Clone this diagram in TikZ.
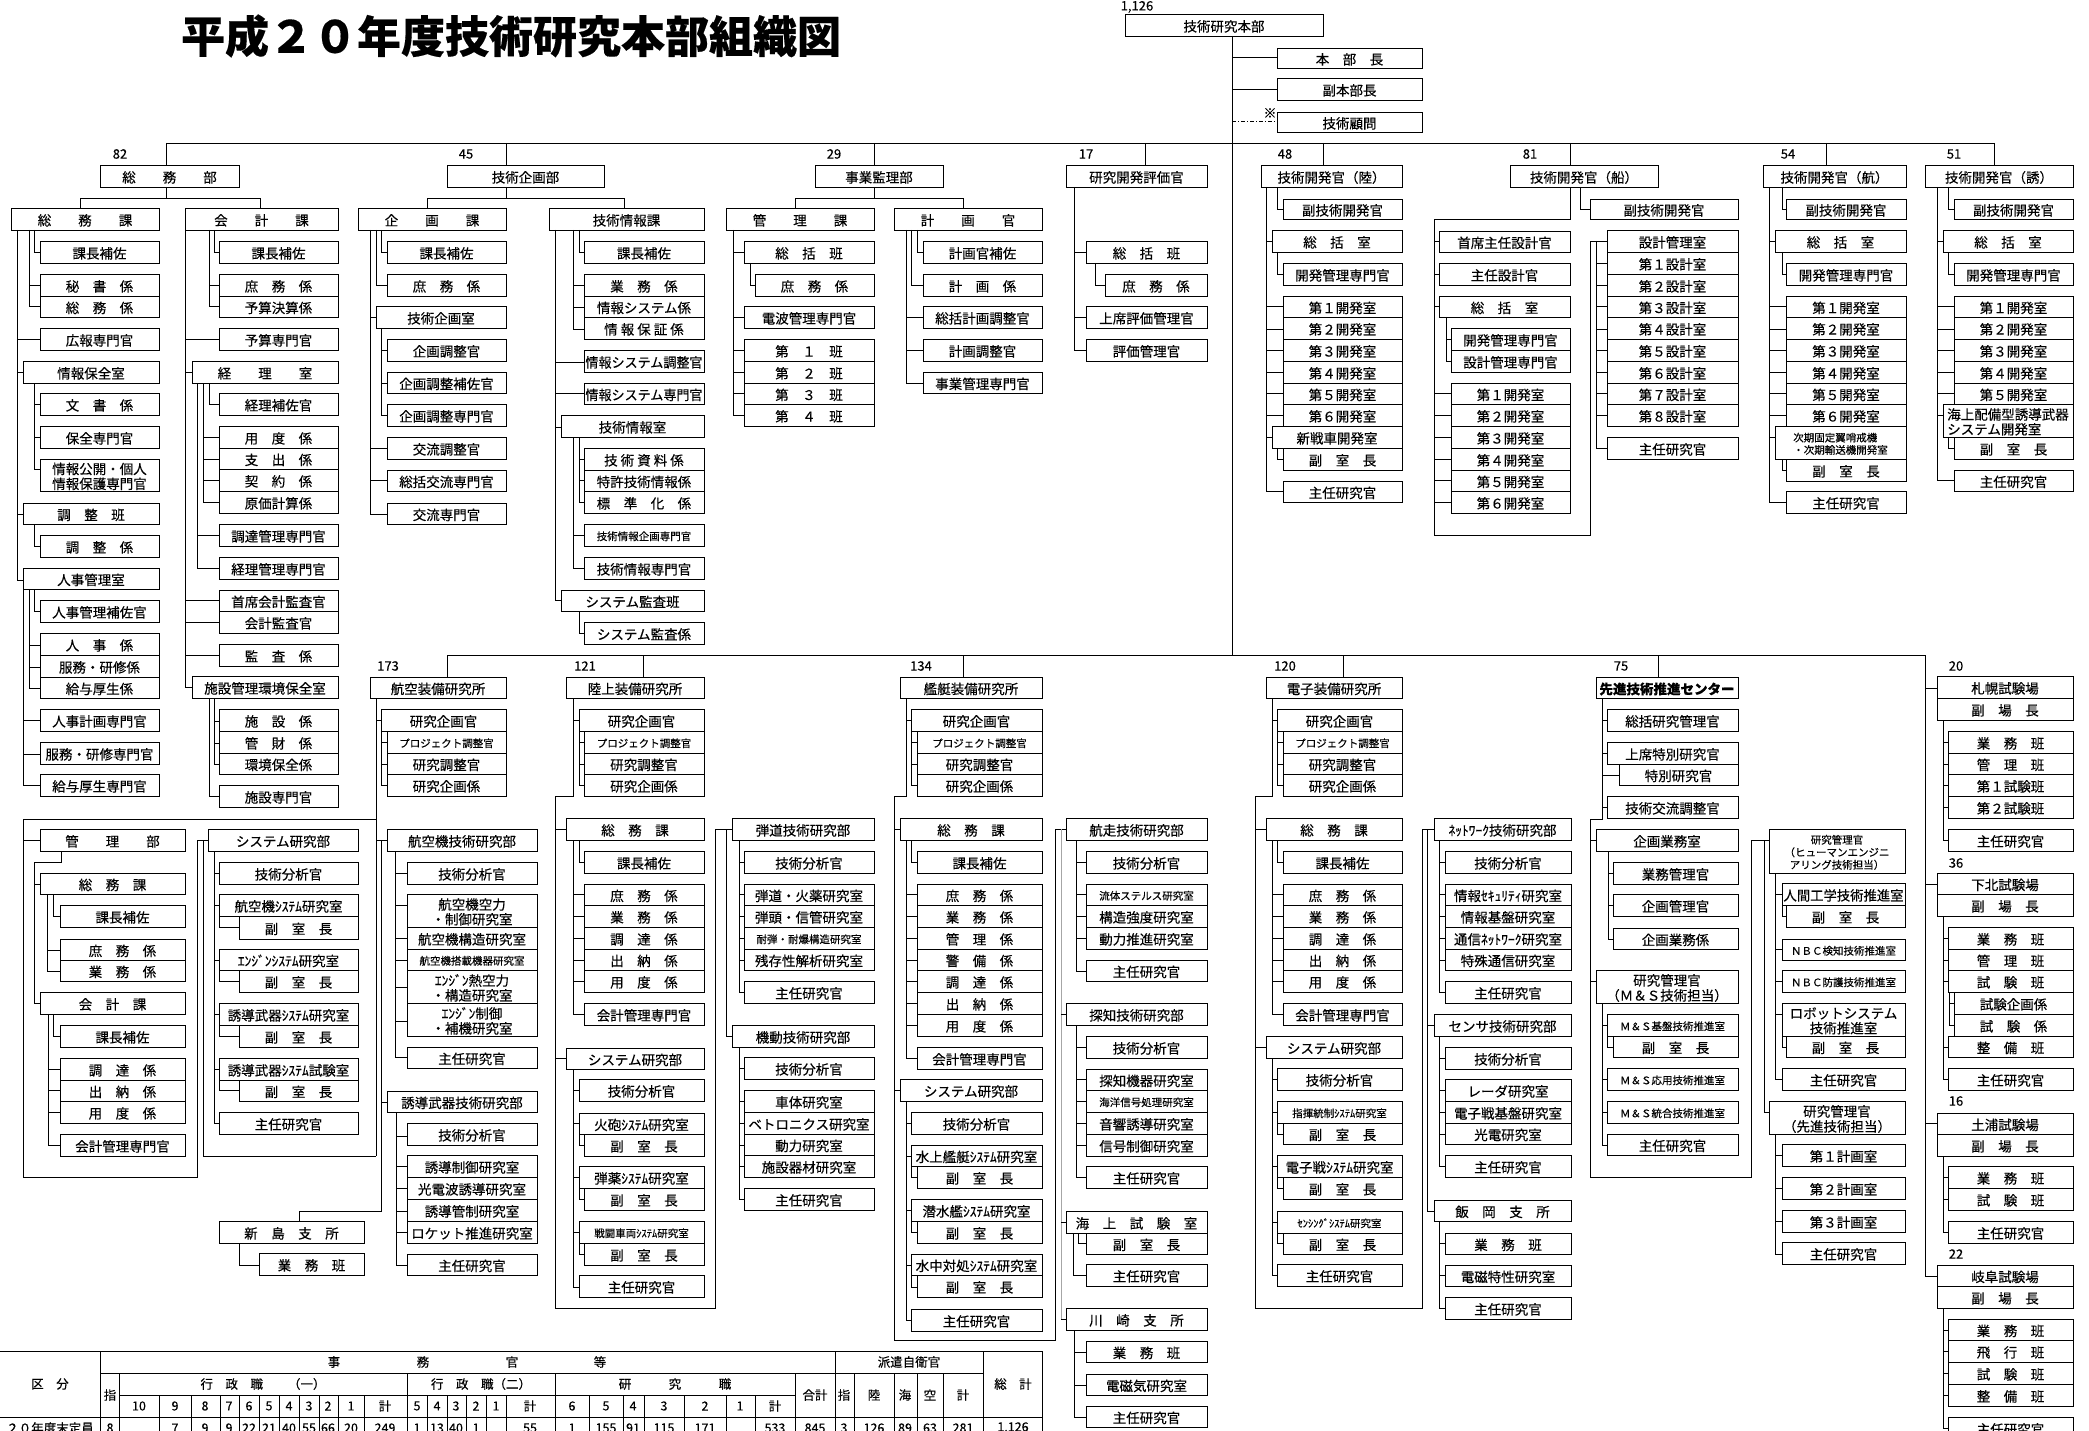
\documentclass[tikz,border=0pt]{standalone}
\usepackage{fontspec}
\setmainfont{Noto Sans CJK JP}[FakeBold=0.3]
\usepackage{graphicx}
\newcounter{bx}
\newcounter{lb}
\newsavebox\tbox
\newdimen\bw
\newcommand\sm{\fontsize{10.5}{11.5}\selectfont}
\newcommand\fitt[2]{\sbox\tbox{\def\arraystretch{0.78}\begin{tabular}{@{}#1@{}}#2\end{tabular}}\raisebox{-2.6pt}[\ht\tbox][\dp\tbox]{\ifdim\wd\tbox>\bw\resizebox{\bw}{\height}{\usebox\tbox}\else\usebox\tbox\fi}}
\newcommand\B[6][c]{\stepcounter{bx}\bw=\dimexpr #4pt-#2pt-3pt\relax
  \node[box,minimum width={(#4-#2)*1pt},minimum height={(#5-#3)*1pt}] (b\thebx) at ({(#2+#4)/2},{(#3+#5)/2}) {\fitt{#1}{#6}};}
\newcommand\Lb[3]{\stepcounter{lb}\node[lab] (l\thelb) at (#1,#2) {#3};}
\newcommand\comb[5]{\draw (#1,#2)--(#1,#3); \foreach \yy in {#5} {\draw (#1,\yy)--(#4,\yy);}}
\newcommand\el[4]{\draw (#1,#2)--(#1,#3)--(#4,#3);}
\newcommand\hl[3]{\draw (#1,#3)--(#2,#3);}
\begin{document}
\begin{tikzpicture}[x=1pt,y=-1pt,line width=0.9pt,
  box/.style={draw,inner sep=0pt,font=\fontsize{13.5}{15}\selectfont},
  lab/.style={inner sep=0pt,font=\fontsize{13}{14}\selectfont},
  tb/.style={inner sep=0pt,font=\fontsize{12.5}{13}\selectfont}]
\useasboundingbox (0,0) rectangle (2089,1431);
\clip (0,0) rectangle (2089,1431);
\fill[white] (0,0) rectangle (2089,1431);
% title
\node[inner sep=0pt,font=\fontsize{44}{48}\selectfont\bfseries] (title) at (511,36) {平成２０年度技術研究本部組織図};
% top
\B{1125}{14}{1323}{36}{技術研究本部}
\Lb{1137}{7}{1,126}
\B{1277}{48}{1422}{68}{本　部　長}
\B{1277}{78}{1422}{100}{副本部長}
\B{1277}{112}{1422}{132}{技術顧問}
\draw (1232,36)--(1232,655);
\hl{1232}{1277}{57} \hl{1232}{1277}{89}
\draw[dash pattern=on 4pt off 2pt on 1pt off 2pt] (1232,121)--(1277,121);
\node[lab] (kome) at (1270,113) {※};
% upper bus
\draw (166,143)--(1994,143);
\foreach \xx in {166,506,874,1145,1323,1570,1826,1994} {\draw (\xx,143)--(\xx,165);}
\B{100}{165}{239}{187}{総　　務　　部}
\B{447}{165}{604}{187}{技術企画部}
\B{815}{165}{943}{187}{事業監理部}
\B{1066}{165}{1207}{187}{研究開発評価官}
\B{1261}{165}{1402}{187}{技術開発官（陸）}
\B{1510}{165}{1658}{187}{技術開発官（船）}
\B{1763}{165}{1906}{187}{技術開発官（航）}
\B{1925}{165}{2073}{187}{技術開発官（誘）}
\Lb{120}{154}{82} \Lb{466}{154}{45} \Lb{834}{154}{29} \Lb{1086}{154}{17}
\Lb{1285}{154}{48} \Lb{1530}{154}{81} \Lb{1788}{154}{54} \Lb{1954}{154}{51}
% ===== 総務部
\draw (166,187)--(166,198); \draw (80,208)--(80,198)--(260,198)--(260,208);
\B{11}{208}{159}{230}{総　　務　　課}
\B{185}{208}{338}{230}{会　　計　　課}
\el{34}{230}{252}{40}
\B{40}{241}{159}{263}{課長補佐}
\comb{29}{230}{306}{40}{285,306}
\B{40}{274}{159}{296}{秘　書　係}
\B{40}{296}{159}{317}{総　務　係}
\B{40}{328}{159}{350}{広報専門官}
\B{23}{361}{159}{383}{情報保全室}
\comb{34}{383}{469}{40}{404,437,469}
\B{40}{393}{159}{415}{文　書　係}
\B{40}{426}{159}{448}{保全専門官}
\B{40}{459}{159}{491}{情報公開・個人\\情報保護専門官}
\B{23}{503}{159}{524}{調　整　班}
\el{34}{524}{546}{40}
\B{40}{535}{159}{557}{調　整　係}
\B{23}{568}{159}{589}{人事管理室}
\draw (17,230)--(17,580);
\hl{17}{40}{339} \hl{17}{23}{372} \hl{17}{23}{514} \hl{17}{23}{580}
\el{34}{589}{611}{40}
\B{40}{600}{159}{622}{人事管理補佐官}
\comb{29}{589}{688}{40}{645,667,688}
\B{40}{633}{159}{655}{人　事　係}
\B{40}{655}{159}{677}{服務・研修係}
\B{40}{677}{159}{698}{給与厚生係}
\comb{23}{589}{785}{40}{720,754,785}
\B{40}{709}{159}{731}{人事計画専門官}
\B{40}{742}{159}{764}{服務・研修専門官}
\B{40}{774}{159}{796}{給与厚生専門官}
% 会計課
\draw (185,230)--(185,687);
\hl{185}{219}{339} \hl{185}{192}{372} \hl{185}{219}{600} \hl{185}{219}{622} \hl{185}{219}{655} \hl{185}{192}{687}
\el{214}{230}{252}{219}
\B{219}{241}{338}{263}{課長補佐}
\comb{209}{230}{306}{219}{285,306}
\B{219}{274}{338}{296}{庶　務　係}
\B{219}{296}{338}{317}{予算決算係}
\B{219}{328}{338}{350}{予算専門官}
\B{192}{361}{338}{383}{経　　理　　室}
\el{209}{383}{404}{219}
\B{219}{393}{338}{415}{経理補佐官}
\comb{203}{383}{502}{219}{437,459,480,502}
\B{219}{426}{338}{448}{用　度　係}
\B{219}{448}{338}{469}{支　出　係}
\B{219}{469}{338}{491}{契　約　係}
\B{219}{491}{338}{513}{原価計算係}
\comb{197}{383}{568}{219}{535,568}
\B{219}{524}{338}{546}{調達管理専門官}
\B{219}{557}{338}{579}{経理管理専門官}
\B{219}{590}{338}{611}{首席会計監査官}
\B{219}{611}{338}{633}{会計監査官}
\B{219}{644}{338}{666}{監　査　係}
\B{192}{676}{338}{698}{施設管理環境保全室}
\comb{214}{698}{764}{219}{721,743,764}
\B{219}{709}{338}{731}{施　設　係}
\B{219}{731}{338}{753}{管　財　係}
\B{219}{753}{338}{774}{環境保全係}
\el{209}{698}{796}{219}
\B{219}{785}{338}{807}{施設専門官}
% ===== 技術企画部
\draw (506,187)--(506,198); \draw (427,208)--(427,198)--(624,198)--(624,208);
\B{358}{208}{506}{230}{企　　画　　課}
\B{549}{208}{704}{230}{技術情報課}
\el{381}{230}{252}{387}
\B{387}{241}{506}{263}{課長補佐}
\el{376}{230}{285}{387}
\B{387}{274}{506}{296}{庶　務　係}
\draw (370,230)--(370,514);
\hl{370}{376}{317} \hl{370}{387}{448} \hl{370}{387}{480} \hl{370}{387}{514}
\B{376}{306}{506}{328}{技術企画室}
\comb{381}{328}{415}{387}{350,383,415}
\B{387}{339}{506}{361}{企画調整官}
\B{387}{372}{506}{393}{企画調整補佐官}
\B{387}{404}{506}{426}{企画調整専門官}
\B{387}{437}{506}{459}{交流調整官}
\B{387}{470}{506}{491}{総括交流専門官}
\B{387}{503}{506}{524}{交流専門官}
\el{579}{230}{252}{584}
\B{584}{241}{704}{263}{課長補佐}
\comb{573}{230}{329}{584}{285,307,329}
\B{584}{274}{704}{296}{業　務　係}
\B{584}{296}{704}{317}{情報システム係}
\B{584}{317}{704}{339}{情 報 保 証 係}
\draw (555,230)--(555,600);
\hl{555}{584}{362} \hl{555}{584}{393} \hl{555}{561}{427} \hl{555}{561}{600}
\B{584}{350}{704}{372}{情報システム調整官}
\B{584}{383}{704}{404}{情報システム専門官}
\B{561}{415}{704}{437}{技術情報室}
\comb{579}{437}{502}{584}{459,480,502}
\B{584}{448}{704}{470}{技 術 資 料 係}
\B{584}{470}{704}{491}{特許技術情報係}
\B{584}{491}{704}{513}{標　準　化　係}
\comb{573}{437}{568}{584}{535,568}
\B{584}{524}{704}{546}{\sm 技術情報企画専門官}
\B{584}{557}{704}{579}{技術情報専門官}
\B{561}{590}{704}{611}{システム監査班}
\el{579}{611}{633}{584}
\B{584}{622}{704}{644}{システム監査係}
% ===== 事業監理部
\draw (874,187)--(874,198); \draw (795,208)--(795,198)--(963,198)--(963,208);
\B{726}{208}{874}{230}{管　　理　　課}
\B{894}{208}{1042}{230}{計　　画　　官}
\comb{733}{230}{415}{744}{252,317,350,372,393,415}
\B{744}{241}{874}{263}{総　括　班}
\el{750}{263}{285}{755}
\B{755}{274}{874}{296}{庶　務　係}
\B{744}{306}{874}{328}{電波管理専門官}
\B{744}{339}{874}{361}{第　１　班}
\B{744}{361}{874}{383}{第　２　班}
\B{744}{383}{874}{404}{第　３　班}
\B{744}{404}{874}{426}{第　４　班}
\el{917}{230}{252}{923}
\B{923}{241}{1042}{263}{計画官補佐}
\el{911}{230}{285}{923}
\B{923}{274}{1042}{296}{計　画　係}
\comb{906}{230}{383}{923}{317,350,383}
\B{923}{306}{1042}{328}{総括計画調整官}
\B{923}{339}{1042}{361}{計画調整官}
\B{923}{372}{1042}{393}{事業管理専門官}
% ===== 研究開発評価官
\comb{1074}{187}{350}{1086}{252,317,350}
\B{1086}{241}{1207}{263}{総　括　班}
\el{1095}{263}{285}{1105}
\B{1105}{274}{1207}{296}{庶　務　係}
\B{1086}{306}{1207}{328}{上席評価管理官}
\B{1086}{339}{1207}{361}{評価管理官}
% ===== 技術開発官（陸）
\el{1277}{187}{209}{1283}
\B{1283}{199}{1402}{219}{副技術開発官}
\comb{1266}{187}{491}{1283}{306,329,350,372,393,415,491}
\hl{1266}{1272}{241} \hl{1266}{1272}{437}
\B{1272}{230}{1402}{252}{総　括　室}
\el{1277}{252}{274}{1283}
\B{1283}{263}{1402}{285}{開発管理専門官}
\B{1283}{296}{1402}{317}{第１開発室}
\B{1283}{317}{1402}{339}{第２開発室}
\B{1283}{339}{1402}{361}{第３開発室}
\B{1283}{361}{1402}{383}{第４開発室}
\B{1283}{383}{1402}{404}{第５開発室}
\B{1283}{404}{1402}{426}{第６開発室}
\B{1272}{426}{1402}{448}{新戦車開発室}
\el{1277}{448}{459}{1283}
\B{1283}{448}{1402}{470}{副　室　長}
\B{1283}{481}{1402}{502}{主任研究官}
% ===== 技術開発官（船）
\el{1580}{187}{209}{1590}
\B{1590}{199}{1738}{219}{副技術開発官}
\draw (1570,187)--(1570,219)--(1434,219)--(1434,535)--(1590,535)--(1590,241)--(1607,241);
\foreach \yy in {241,274,306} {\draw (1434,\yy)--(1439,\yy);}
\foreach \yy in {393,415,437,459,480,502} {\draw (1434,\yy)--(1451,\yy);}
\B{1439}{231}{1570}{252}{首席主任設計官}
\B{1439}{263}{1570}{285}{主任設計官}
\B{1439}{296}{1570}{317}{総　括　室}
\comb{1446}{317}{361}{1451}{339,361}
\B{1451}{328}{1570}{350}{開発管理専門官}
\B{1451}{350}{1570}{372}{設計管理専門官}
\B{1451}{383}{1570}{404}{第１開発室}
\B{1451}{404}{1570}{426}{第２開発室}
\B{1451}{426}{1570}{448}{第３開発室}
\B{1451}{448}{1570}{470}{第４開発室}
\B{1451}{470}{1570}{491}{第５開発室}
\B{1451}{491}{1570}{513}{第６開発室}
\B{1607}{230}{1738}{252}{設計管理室}
\B{1607}{252}{1738}{274}{第１設計室}
\B{1607}{274}{1738}{296}{第２設計室}
\B{1607}{296}{1738}{317}{第３設計室}
\B{1607}{317}{1738}{339}{第４設計室}
\B{1607}{339}{1738}{361}{第５設計室}
\B{1607}{361}{1738}{383}{第６設計室}
\B{1607}{383}{1738}{404}{第７設計室}
\B{1607}{404}{1738}{426}{第８設計室}
\comb{1596}{241}{448}{1607}{263,285,306,329,350,372,393,415,448}
\B{1607}{437}{1738}{459}{主任研究官}
% ===== 技術開発官（航）
\el{1782}{187}{209}{1786}
\B{1786}{199}{1906}{219}{副技術開発官}
\comb{1769}{187}{502}{1786}{306,329,350,372,393,415,502}
\hl{1769}{1775}{241} \hl{1769}{1775}{437}
\B{1775}{230}{1906}{252}{総　括　室}
\el{1782}{252}{274}{1786}
\B{1786}{263}{1906}{285}{開発管理専門官}
\B{1786}{296}{1906}{317}{第１開発室}
\B{1786}{317}{1906}{339}{第２開発室}
\B{1786}{339}{1906}{361}{第３開発室}
\B{1786}{361}{1906}{383}{第４開発室}
\B{1786}{383}{1906}{404}{第５開発室}
\B{1786}{404}{1906}{426}{第６開発室}
\B[l]{1775}{426}{1906}{459}{\sm 次期固定翼哨戒機\\\sm ・次期輸送機開発室}
\el{1782}{459}{470}{1786}
\B{1786}{459}{1906}{481}{副　室　長}
\B{1786}{491}{1906}{513}{主任研究官}
% ===== 技術開発官（誘）
\el{1948}{187}{209}{1954}
\B{1954}{199}{2073}{219}{副技術開発官}
\comb{1937}{187}{480}{1954}{306,329,350,372,393,480}
\hl{1937}{1943}{241} \hl{1937}{1943}{415}
\B{1943}{230}{2073}{252}{総　括　室}
\el{1948}{252}{274}{1954}
\B{1954}{263}{2073}{285}{開発管理専門官}
\B{1954}{296}{2073}{317}{第１開発室}
\B{1954}{317}{2073}{339}{第２開発室}
\B{1954}{339}{2073}{361}{第３開発室}
\B{1954}{361}{2073}{383}{第４開発室}
\B{1954}{383}{2073}{404}{第５開発室}
\B[l]{1943}{404}{2073}{437}{海上配備型誘導武器\\システム開発室}
\el{1948}{437}{448}{1954}
\B{1954}{437}{2073}{459}{副　室　長}
\B{1954}{470}{2073}{491}{主任研究官}
% ===== lower bus
\draw (447,655)--(1925,655);
\foreach \xx in {447,643,963,1343,1658} {\draw (\xx,655)--(\xx,677);}
\Lb{388}{666}{173} \Lb{585}{666}{121} \Lb{921}{666}{134} \Lb{1285}{666}{120} \Lb{1621}{666}{75}
% ===== 航空装備研究所
\B{370}{677}{506}{698}{航空装備研究所}
\draw (376,698)--(376,1156);
\hl{376}{381}{720}
\B{381}{709}{506}{731}{研究企画官}
\comb{381}{731}{785}{387}{742,764,785}
\B{387}{731}{506}{753}{\sm プロジェクト調整官}
\B{387}{753}{506}{774}{研究調整官}
\B{387}{774}{506}{796}{研究企画係}
\draw (23,819)--(376,819);
\draw (23,819)--(23,1177)--(197,1177)--(197,840)--(208,840);
\draw (203,840)--(203,1156)--(376,1156);
\hl{23}{40}{840}
\hl{376}{387}{840}
\draw (381,840)--(381,1211)--(299,1211)--(299,1221);
\hl{381}{387}{1102}
\B{40}{829}{185}{851}{管　　理　　部}
\draw (61,851)--(61,862)--(34,862)--(34,1003);
\hl{34}{40}{884} \hl{34}{40}{1003}
\B{40}{873}{185}{894}{総　務　課}
\el{53}{894}{916}{60}
\B{60}{905}{185}{927}{課長補佐}
\comb{47}{894}{971}{60}{950,971}
\B{60}{939}{185}{960}{庶　務　係}
\B{60}{960}{185}{981}{業　務　係}
\B{40}{992}{185}{1014}{会　計　課}
\el{53}{1014}{1036}{60}
\B{60}{1025}{185}{1047}{課長補佐}
\comb{48}{1014}{1145}{60}{1069,1090,1112,1145}
\B{60}{1058}{185}{1080}{調　達　係}
\B{60}{1080}{185}{1101}{出　納　係}
\B{60}{1101}{185}{1123}{用　度　係}
\B{60}{1134}{185}{1156}{会計管理専門官}
\B{208}{829}{358}{851}{システム研究部}
\comb{214}{851}{1123}{219}{873,905,960,1014,1069,1123}
\B{219}{862}{358}{884}{技術分析官}
\B{219}{894}{358}{916}{航空機ｼｽﾃﾑ研究室}
\el{219}{916}{927}{239}
\B{239}{916}{358}{939}{副　室　長}
\B{219}{949}{358}{970}{ｴﾝｼﾞﾝｼｽﾃﾑ研究室}
\el{219}{970}{981}{239}
\B{239}{970}{358}{992}{副　室　長}
\B{219}{1003}{358}{1025}{誘導武器ｼｽﾃﾑ研究室}
\el{219}{1025}{1036}{239}
\B{239}{1025}{358}{1047}{副　室　長}
\B{219}{1058}{358}{1080}{誘導武器ｼｽﾃﾑ試験室}
\el{219}{1080}{1090}{239}
\B{239}{1080}{358}{1101}{副　室　長}
\B{219}{1112}{358}{1134}{主任研究官}
\B{387}{829}{537}{851}{航空機技術研究部}
\comb{395}{851}{1057}{407}{873,905,938,960,987,1021,1057}
\B{407}{862}{537}{884}{技術分析官}
\B{407}{894}{537}{927}{航空機空力\\・制御研究室}
\B{407}{927}{537}{949}{航空機構造研究室}
\B{407}{949}{537}{970}{\sm 航空機搭載機器研究室}
\B{407}{970}{537}{1003}{ｴﾝｼﾞﾝ熱空力\\・構造研究室}
\B{407}{1003}{537}{1036}{ｴﾝｼﾞﾝ制御\\・補機研究室}
\B{407}{1047}{537}{1068}{主任研究官}
\B{387}{1091}{537}{1112}{誘導武器技術研究部}
\comb{396}{1112}{1265}{407}{1136,1166,1188,1211,1232,1265}
\B{407}{1123}{537}{1145}{技術分析官}
\B{407}{1155}{537}{1177}{誘導制御研究室}
\B{407}{1177}{537}{1199}{光電波誘導研究室}
\B{407}{1199}{537}{1221}{誘導管制研究室}
\B{407}{1221}{537}{1243}{ロケット推進研究室}
\B{407}{1254}{537}{1275}{主任研究官}
\B{219}{1221}{364}{1243}{新　島　支　所}
\el{239}{1243}{1265}{259}
\B{259}{1253}{364}{1275}{業　務　班}
% ===== 陸上装備研究所
\B{566}{677}{704}{698}{陸上装備研究所}
\draw (573,698)--(573,796)--(555,796)--(555,1308)--(715,1308)--(715,829)--(732,829);
\draw (726,829)--(726,1036)--(732,1036);
\hl{573}{579}{720}
\B{579}{709}{704}{731}{研究企画官}
\comb{579}{731}{785}{584}{742,764,785}
\B{584}{731}{704}{753}{\sm プロジェクト調整官}
\B{584}{753}{704}{774}{研究調整官}
\B{584}{774}{704}{796}{研究企画係}
\hl{555}{566}{829} \hl{555}{566}{1058}
\B{566}{818}{704}{840}{総　務　課}
\el{579}{840}{862}{584}
\B{584}{851}{704}{873}{課長補佐}
\comb{573}{840}{1014}{584}{894,916,938,960,981,1014}
\B{584}{884}{704}{905}{庶　務　係}
\B{584}{905}{704}{927}{業　務　係}
\B{584}{927}{704}{949}{調　達　係}
\B{584}{949}{704}{970}{出　納　係}
\B{584}{970}{704}{992}{用　度　係}
\B{584}{1003}{704}{1025}{会計管理専門官}
\B{566}{1048}{704}{1069}{システム研究部}
\comb{573}{1069}{1287}{579}{1090,1123,1177,1232,1287}
\B{579}{1079}{704}{1101}{技術分析官}
\B{579}{1113}{704}{1134}{火砲ｼｽﾃﾑ研究室}
\el{579}{1134}{1145}{584}
\B{584}{1134}{704}{1156}{副　室　長}
\B{579}{1166}{704}{1188}{弾薬ｼｽﾃﾑ研究室}
\el{579}{1188}{1199}{584}
\B{584}{1188}{704}{1210}{副　室　長}
\B{579}{1221}{704}{1243}{\sm 戦闘車両ｼｽﾃﾑ研究室}
\el{579}{1243}{1254}{584}
\B{584}{1243}{704}{1265}{副　室　長}
\B{579}{1275}{704}{1297}{主任研究官}
\B{732}{818}{874}{840}{弾道技術研究部}
\comb{739}{840}{992}{744}{862,894,916,938,960,992}
\B{744}{851}{874}{873}{技術分析官}
\B{744}{884}{874}{905}{弾道・火薬研究室}
\B{744}{905}{874}{927}{弾頭・信管研究室}
\B{744}{927}{874}{949}{\sm 耐弾・耐爆構造研究室}
\B{744}{949}{874}{970}{残存性解析研究室}
\B{744}{981}{874}{1003}{主任研究官}
\B{732}{1025}{874}{1047}{機動技術研究部}
\comb{739}{1047}{1199}{744}{1068,1101,1123,1145,1166,1199}
\B{744}{1057}{874}{1079}{技術分析官}
\B{744}{1090}{874}{1112}{車体研究室}
\B{744}{1112}{874}{1134}{ベトロニクス研究室}
\B{744}{1134}{874}{1155}{動力研究室}
\B{744}{1155}{874}{1177}{施設器材研究室}
\B{744}{1188}{874}{1210}{主任研究官}
% ===== 艦艇装備研究所
\B{900}{677}{1042}{698}{艦艇装備研究所}
\draw (906,698)--(906,796)--(894,796)--(894,1340)--(1055,1340)--(1055,829)--(1066,829);
\hl{906}{911}{720}
\B{911}{709}{1042}{731}{研究企画官}
\comb{911}{731}{785}{917}{742,764,785}
\B{917}{731}{1042}{753}{\sm プロジェクト調整官}
\B{917}{753}{1042}{774}{研究調整官}
\B{917}{774}{1042}{796}{研究企画係}
\hl{894}{900}{829} \hl{894}{900}{1090}
\B{900}{818}{1042}{840}{総　務　課}
\el{911}{840}{862}{917}
\B{917}{851}{1042}{873}{課長補佐}
\comb{906}{840}{1058}{917}{894,916,938,960,981,1003,1025,1058}
\B{917}{884}{1042}{905}{庶　務　係}
\B{917}{905}{1042}{927}{業　務　係}
\B{917}{927}{1042}{949}{管　理　係}
\B{917}{949}{1042}{970}{警　備　係}
\B{917}{970}{1042}{992}{調　達　係}
\B{917}{992}{1042}{1014}{出　納　係}
\B{917}{1014}{1042}{1036}{用　度　係}
\B{917}{1047}{1042}{1069}{会計管理専門官}
\B{900}{1079}{1042}{1101}{システム研究部}
\comb{906}{1101}{1320}{911}{1123,1156,1210,1265,1320}
\B{911}{1112}{1042}{1134}{技術分析官}
\B{911}{1145}{1042}{1166}{水上艦艇ｼｽﾃﾑ研究室}
\el{911}{1166}{1177}{917}
\B{917}{1166}{1042}{1188}{副　室　長}
\B{911}{1199}{1042}{1221}{潜水艦ｼｽﾃﾑ研究室}
\el{911}{1221}{1232}{917}
\B{917}{1221}{1042}{1243}{副　室　長}
\B{911}{1254}{1042}{1275}{水中対処ｼｽﾃﾑ研究室}
\el{911}{1275}{1287}{917}
\B{917}{1275}{1042}{1297}{副　室　長}
\B{911}{1309}{1042}{1331}{主任研究官}
\draw[gray!70] (1061,829)--(1061,1319);
\hl{1061}{1066}{1014} \hl{1061}{1066}{1222} \hl{1061}{1066}{1319}
\B{1066}{818}{1207}{840}{航走技術研究部}
\comb{1076}{840}{971}{1086}{862,894,916,938,971}
\B{1086}{851}{1207}{873}{技術分析官}
\B{1086}{884}{1207}{905}{\sm 流体ステルス研究室}
\B{1086}{905}{1207}{927}{構造強度研究室}
\B{1086}{927}{1207}{949}{動力推進研究室}
\B{1086}{960}{1207}{981}{主任研究官}
\B{1066}{1003}{1207}{1025}{探知技術研究部}
\comb{1076}{1025}{1177}{1086}{1047,1079,1101,1123,1145,1177}
\B{1086}{1036}{1207}{1058}{技術分析官}
\B{1086}{1069}{1207}{1090}{探知機器研究室}
\B{1086}{1090}{1207}{1112}{\sm 海洋信号処理研究室}
\B{1086}{1112}{1207}{1134}{音響誘導研究室}
\B{1086}{1134}{1207}{1156}{信号制御研究室}
\B{1086}{1166}{1207}{1188}{主任研究官}
\B{1066}{1211}{1207}{1233}{海　上　試　験　室}
\el{1078}{1233}{1243}{1086}
\B{1086}{1233}{1207}{1254}{副　室　長}
\el{1073}{1233}{1275}{1086}
\B{1086}{1264}{1207}{1286}{主任研究官}
\B{1066}{1308}{1207}{1330}{川　崎　支　所}
\comb{1074}{1330}{1417}{1086}{1352,1385,1417}
\B{1086}{1341}{1207}{1362}{業　務　班}
\B{1086}{1374}{1207}{1395}{電磁気研究室}
\B{1086}{1406}{1207}{1427}{主任研究官}
% ===== 電子装備研究所
\B{1266}{677}{1402}{698}{電子装備研究所}
\draw (1272,698)--(1272,796)--(1255,796)--(1255,1308)--(1422,1308)--(1422,829)--(1434,829);
\draw (1427,829)--(1427,1211)--(1434,1211); \hl{1427}{1434}{1025}
\hl{1272}{1277}{720}
\B{1277}{709}{1402}{731}{研究企画官}
\comb{1277}{731}{785}{1283}{742,764,785}
\B{1283}{731}{1402}{753}{\sm プロジェクト調整官}
\B{1283}{753}{1402}{774}{研究調整官}
\B{1283}{774}{1402}{796}{研究企画係}
\hl{1255}{1266}{829} \hl{1255}{1266}{1047}
\B{1266}{818}{1402}{840}{総　務　課}
\el{1277}{840}{862}{1283}
\B{1283}{851}{1402}{873}{課長補佐}
\comb{1272}{840}{1014}{1283}{894,916,938,960,981,1014}
\B{1283}{884}{1402}{905}{庶　務　係}
\B{1283}{905}{1402}{927}{業　務　係}
\B{1283}{927}{1402}{949}{調　達　係}
\B{1283}{949}{1402}{970}{出　納　係}
\B{1283}{970}{1402}{992}{用　度　係}
\B{1283}{1003}{1402}{1025}{会計管理専門官}
\B{1266}{1036}{1402}{1058}{システム研究部}
\comb{1272}{1058}{1275}{1277}{1079,1112,1166,1222,1275}
\B{1277}{1068}{1402}{1090}{技術分析官}
\B{1277}{1101}{1402}{1123}{\sm 指揮統制ｼｽﾃﾑ研究室}
\el{1277}{1123}{1134}{1283}
\B{1283}{1123}{1402}{1144}{副　室　長}
\B{1277}{1155}{1402}{1177}{電子戦ｼｽﾃﾑ研究室}
\el{1277}{1177}{1188}{1283}
\B{1283}{1177}{1402}{1199}{副　室　長}
\B{1277}{1211}{1402}{1233}{\sm ｾﾝｼﾝｸﾞｼｽﾃﾑ研究室}
\el{1277}{1233}{1243}{1283}
\B{1283}{1233}{1402}{1254}{副　室　長}
\B{1277}{1264}{1402}{1286}{主任研究官}
\B{1434}{818}{1571}{840}{ﾈｯﾄﾜｰｸ技術研究部}
\comb{1439}{840}{992}{1445}{862,894,916,938,960,992}
\B{1445}{851}{1571}{873}{技術分析官}
\B{1445}{884}{1571}{905}{情報ｾｷｭﾘﾃｨ研究室}
\B{1445}{905}{1571}{927}{情報基盤研究室}
\B{1445}{927}{1571}{949}{通信ﾈｯﾄﾜｰｸ研究室}
\B{1445}{949}{1571}{970}{特殊通信研究室}
\B{1445}{981}{1571}{1003}{主任研究官}
\B{1434}{1014}{1571}{1036}{センサ技術研究部}
\comb{1439}{1036}{1166}{1445}{1058,1090,1112,1134,1166}
\B{1445}{1047}{1571}{1069}{技術分析官}
\B{1445}{1079}{1571}{1101}{レーダ研究室}
\B{1445}{1101}{1571}{1123}{電子戦基盤研究室}
\B{1445}{1123}{1571}{1144}{光電研究室}
\B{1445}{1155}{1571}{1177}{主任研究官}
\B{1434}{1200}{1571}{1221}{飯　岡　支　所}
\comb{1439}{1221}{1308}{1445}{1243,1275,1308}
\B{1445}{1233}{1571}{1254}{業　務　班}
\B{1445}{1265}{1571}{1286}{電磁特性研究室}
\B{1445}{1297}{1571}{1319}{主任研究官}
% ===== 先進技術推進センター
\B{1596}{677}{1738}{698}{\bfseries 先進技術推進センター}
\draw (1602,698)--(1602,819)--(1590,819)--(1590,1177)--(1751,1177)--(1751,840)--(1769,840);
\draw (1764,840)--(1764,1112)--(1769,1112);
\hl{1602}{1607}{720} \hl{1602}{1607}{753} \hl{1602}{1619}{775} \hl{1602}{1607}{807}
\B{1607}{709}{1738}{731}{総括研究管理官}
\B{1607}{742}{1738}{764}{上席特別研究官}
\B{1619}{764}{1738}{785}{特別研究官}
\B{1607}{796}{1738}{818}{技術交流調整官}
\hl{1590}{1596}{840} \hl{1590}{1596}{981}
\B{1596}{829}{1738}{851}{企画業務室}
\comb{1608}{851}{939}{1613}{873,905,939}
\B{1613}{862}{1738}{884}{業務管理官}
\B{1613}{894}{1738}{916}{企画管理官}
\B{1613}{928}{1738}{949}{企画業務係}
\B{1596}{970}{1738}{1003}{研究管理官\\（Ｍ＆Ｓ技術担当）}
\comb{1602}{1003}{1145}{1607}{1025,1079,1112,1145}
\B{1607}{1014}{1738}{1036}{\sm Ｍ＆Ｓ基盤技術推進室}
\el{1607}{1036}{1047}{1613}
\B{1613}{1036}{1738}{1057}{副　室　長}
\B{1607}{1068}{1738}{1090}{\sm Ｍ＆Ｓ応用技術推進室}
\B{1607}{1101}{1738}{1123}{\sm Ｍ＆Ｓ統合技術推進室}
\B{1607}{1134}{1738}{1155}{主任研究官}
\B{1769}{829}{1905}{873}{\sm 研究管理官\\\sm （ヒューマンエンジニ\\\sm アリング技術担当）}
\comb{1775}{873}{1079}{1782}{894,949,981,1014,1079}
\B{1782}{883}{1905}{905}{人間工学技術推進室}
\el{1782}{905}{916}{1786}
\B{1786}{905}{1905}{927}{副　室　長}
\B{1782}{939}{1905}{960}{\sm ＮＢＣ検知技術推進室}
\B{1782}{970}{1905}{992}{\sm ＮＢＣ防護技術推進室}
\B{1782}{1003}{1905}{1036}{ロボットシステム\\技術推進室}
\el{1782}{1036}{1047}{1786}
\B{1786}{1036}{1905}{1057}{副　室　長}
\B{1782}{1068}{1905}{1090}{主任研究官}
\B{1769}{1101}{1905}{1134}{研究管理官\\（先進技術担当）}
\comb{1775}{1134}{1254}{1782}{1155,1188,1221,1254}
\B{1782}{1144}{1905}{1166}{第１計画室}
\B{1782}{1177}{1905}{1199}{第２計画室}
\B{1782}{1210}{1905}{1232}{第３計画室}
\B{1782}{1242}{1905}{1264}{主任研究官}
% ===== 試験場
\draw (1925,655)--(1925,1276);
\hl{1925}{1937}{688} \hl{1925}{1937}{884} \hl{1925}{1937}{1123} \hl{1925}{1937}{1276}
\Lb{1956}{666}{20} \Lb{1956}{863}{36} \Lb{1956}{1101}{16} \Lb{1956}{1254}{22}
\B{1937}{676}{2073}{698}{札幌試験場}
\B{1937}{698}{2073}{720}{副　場　長}
\comb{1943}{720}{840}{1948}{742,764,785,807,840}
\B{1948}{731}{2073}{753}{業　務　班}
\B{1948}{753}{2073}{774}{管　理　班}
\B{1948}{774}{2073}{796}{第１試験班}
\B{1948}{796}{2073}{818}{第２試験班}
\B{1948}{829}{2073}{851}{主任研究官}
\B{1937}{873}{2073}{894}{下北試験場}
\B{1937}{894}{2073}{916}{副　場　長}
\comb{1943}{916}{1079}{1948}{938,960,981,1047,1079}
\B{1948}{927}{2073}{949}{業　務　班}
\B{1948}{949}{2073}{970}{管　理　班}
\B{1948}{970}{2073}{992}{試　験　班}
\comb{1949}{992}{1025}{1954}{1003,1025}
\B{1954}{992}{2073}{1014}{試験企画係}
\B{1954}{1014}{2073}{1036}{試　験　係}
\B{1948}{1036}{2073}{1057}{整　備　班}
\B{1948}{1068}{2073}{1090}{主任研究官}
\B{1937}{1113}{2073}{1134}{土浦試験場}
\B{1937}{1134}{2073}{1156}{副　場　長}
\comb{1943}{1156}{1232}{1948}{1177,1199,1232}
\B{1948}{1166}{2073}{1188}{業　務　班}
\B{1948}{1188}{2073}{1210}{試　験　班}
\B{1948}{1221}{2073}{1243}{主任研究官}
\B{1937}{1265}{2073}{1286}{岐阜試験場}
\B{1937}{1286}{2073}{1308}{副　場　長}
\comb{1943}{1308}{1428}{1948}{1330,1351,1373,1395,1428}
\B{1948}{1319}{2073}{1340}{業　務　班}
\B{1948}{1340}{2073}{1362}{飛　行　班}
\B{1948}{1362}{2073}{1384}{試　験　班}
\B{1948}{1384}{2073}{1406}{整　備　班}
\B{1948}{1417}{2073}{1439}{主任研究官}
% ===== table
\draw (0,1351)--(1042,1351);
\draw (100,1373)--(983,1373);
\draw (119,1395)--(795,1395);
\draw (0,1417)--(1042,1417);
\draw (0,1439)--(1042,1439);
\foreach \xx in {100,835,983,1042} {\draw (\xx,1351)--(\xx,1439);}
\foreach \xx in {119,407,555,795,854,894,917,943} {\draw (\xx,1373)--(\xx,1439);}
\foreach \xx in {159,191,220,239,259,279,299,319,338,364,427,447,466,486,506,589,623,644,684,726,755} {\draw (\xx,1395)--(\xx,1439);}
\node[tb] (t1) at (50,1384) {区　分};
\node[tb] (t2) at (334,1362) {事};
\node[tb] (t3) at (423,1362) {務};
\node[tb] (t4) at (512,1362) {官};
\node[tb] (t5) at (600,1362) {等};
\node[tb] (t6) at (909,1362) {派遣自衛官};
\node[tb] (t7) at (1013,1384) {総　計};
\node[tb] (t8) at (110,1395) {指};
\node[tb] (t9) at (263,1384) {行　政　職　　（一）};
\node[tb] (t10) at (481,1384) {行　政　職（二）};
\node[tb] (t11) at (675,1384) {研　　　究　　　職};
\node[tb] (t12) at (815,1395) {合計};
\node[tb] (t13) at (844,1395) {指};
\node[tb] (t14) at (874,1395) {陸};
\node[tb] (t15) at (905,1395) {海};
\node[tb] (t16) at (930,1395) {空};
\node[tb] (t17) at (963,1395) {計};
\foreach \cx/\tt [count=\i] in {139/10,175/9,205/8,229/7,249/6,269/5,289/4,309/3,328/2,351/1,385/計,417/5,437/4,456/3,476/2,496/1,530/計,572/6,606/5,633/4,664/3,705/2,740/1,775/計}
  {\node[tb] (h\i) at (\cx,1406) {\tt};}
\node[tb] (d0) at (50,1428) {２０年度末定員};
\foreach \cx/\tt [count=\i] in {110/8,175/7,205/9,229/9,249/22,269/21,289/40,309/55,328/66,351/20,385/249,417/1,437/13,456/40,476/1,530/55,572/1,606/155,633/91,664/115,705/171,775/533,815/845,844/3,874/126,905/89,930/63,963/281,1013/{1,126}}
  {\node[tb] (d\i) at (\cx,1428) {\tt};}
\end{tikzpicture}
\end{document}
